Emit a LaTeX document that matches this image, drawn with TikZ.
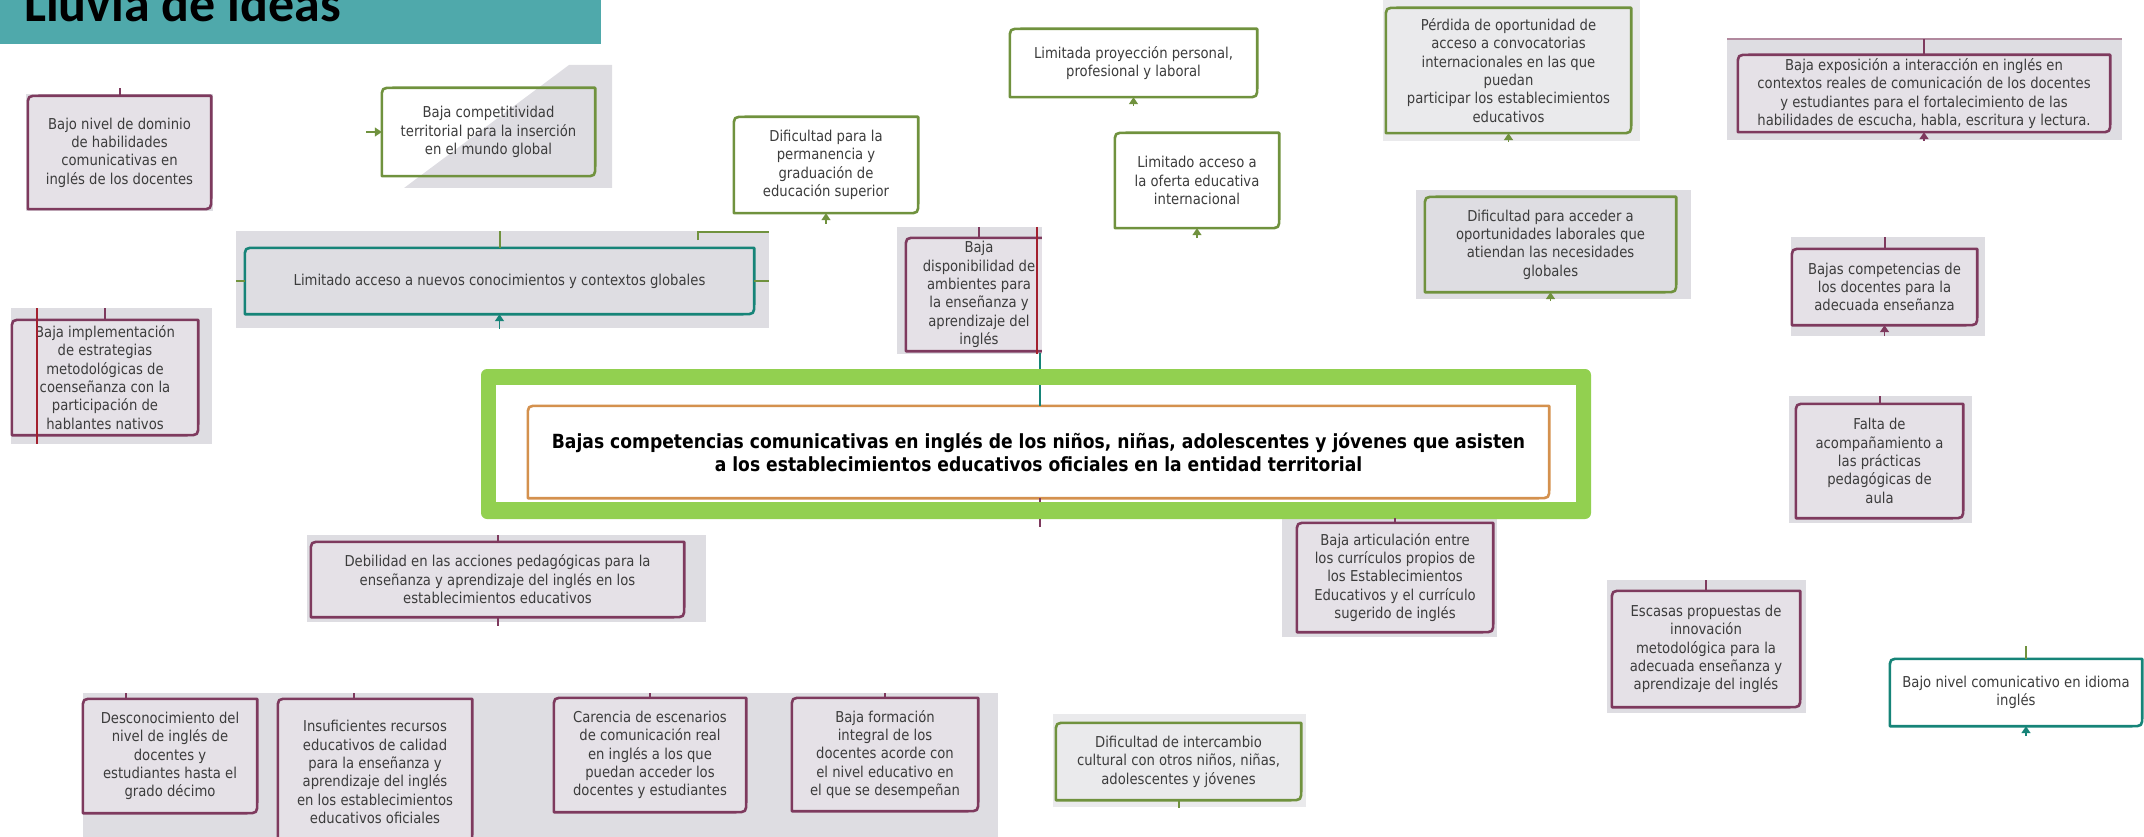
\documentclass[tikz,border=0pt]{standalone}
\usepackage{fontspec}
\setmainfont{DejaVu Sans}[FakeStretch=0.88]
\newfontfamily\titlefont{Carlito}
\usetikzlibrary{arrows.meta, calc}
\definecolor{titleteal}{HTML}{4FA9AB}
\definecolor{maroon}{HTML}{7E3A5E}
\definecolor{darkred}{HTML}{A3202E}
\definecolor{leaf}{HTML}{70923E}
\definecolor{sea}{HTML}{168478}
\definecolor{lime}{HTML}{92D050}
\definecolor{amber}{HTML}{D4914E}
\definecolor{patchgrey}{HTML}{DEDDE2}
\definecolor{lightgrey}{HTML}{EAEAEC}
\definecolor{pinkgrey}{HTML}{E5E1E7}
\definecolor{textgrey}{HTML}{3C3C3C}
\pgfdeclarelayer{patches}
\pgfdeclarelayer{frames}
\pgfsetlayers{patches,frames,main}
% box outline with rounded top-left and bottom-right corners
\newcommand{\ideaframe}[2]{%
  \begin{pgfonlayer}{frames}
    \filldraw[#2] ($(#1.north west)+(0pt,-11pt)$) .. controls (#1.north west) .. ($(#1.north west)+(11pt,0pt)$)
      -- (#1.north east) -- ($(#1.south east)+(0pt,11pt)$) .. controls (#1.south east) .. ($(#1.south east)+(-11pt,0pt)$)
      -- (#1.south west) -- cycle;
  \end{pgfonlayer}}

\begin{document}
\begin{tikzpicture}[x=1pt, y=-1pt,
    idea/.style={inner sep=0pt, align=center, text=textgrey,
      font=\fontsize{15}{18.4}\selectfont},
    frame/.style={line width=2.6pt, line join=round},
    maroonbox/.style={frame, draw=maroon, fill=pinkgrey},
    leafbox/.style={frame, draw=leaf, fill=white},
    seabox/.style={frame, draw=sea, fill=white},
    patch/.style={fill=patchgrey},
    stub/.style={line width=2pt},
    arr/.style={line width=1.5pt, -{Triangle[width=9pt,length=7pt]}}]
  \useasboundingbox (0,0) rectangle (2144,837);

  % title bar
  \fill[titleteal] (0,0) rectangle (601,44);
  \node[anchor=base west, inner sep=0pt, font=\titlefont\bfseries\fontsize{52}{52}\selectfont]
    (titulo) at (24,22) {Lluvia de ideas};

  % grey patches behind the pasted boxes, and the frame of the problem
  \begin{pgfonlayer}{patches}
    \fill[patch] (26,94) rectangle (213,211);
    \fill[patch] (569,65) -- (612,65) -- (612,188) -- (404,188) -- cycle;
    \fill[patch] (236,231) rectangle (769,328);
    \fill[patch] (11,308) rectangle (212,444);
    \fill[patch] (897,227) rectangle (1042,354);
    \fill[lightgrey] (1383,0) rectangle (1640,141);
    \fill[patch] (1727,38) rectangle (2122,140);
    \fill[patch] (1416,190) rectangle (1691,299);
    \fill[patch] (1791,237) rectangle (1985,336);
    \fill[patch] (1789,396) rectangle (1972,523);
    \fill[patch] (307,535) rectangle (706,622);
    \fill[patch] (1282,518) rectangle (1497,637);
    \fill[patch] (1607,580) rectangle (1806,713);
    \fill[patch] (83,693) rectangle (998,837);
    \fill[lightgrey] (1053,714) rectangle (1306,807);
    \fill[lime, rounded corners=6pt] (481,369) rectangle (1591,519);
    \fill[white] (496,385) rectangle (1576,502);
  \end{pgfonlayer}

  % upper left
  \node[idea, minimum width=183pt, minimum height=113pt] (dominio) at (119.5,152.5)
    {Bajo nivel de dominio\\de habilidades\\comunicativas en\\inglés de los docentes};
  \ideaframe{dominio}{maroonbox}
  \node[idea, minimum width=213pt, minimum height=88pt] (competitividad) at (488.5,132)
    {Baja competitividad\\territorial para la inserción\\en el mundo global};
  \ideaframe{competitividad}{leafbox, fill=none}
  \node[idea, minimum width=509pt, minimum height=66pt] (acceso) at (499.5,281)
    {Limitado acceso a nuevos conocimientos y contextos globales};
  \ideaframe{acceso}{seabox, fill=patchgrey}
  \node[idea, minimum width=186pt, minimum height=115pt] (implementacion) at (105,377.5)
    {Baja implementación\\de estrategias\\metodológicas de\\coenseñanza con la\\participación de\\hablantes nativos};
  \ideaframe{implementacion}{maroonbox}

  % upper middle
  \node[idea, minimum width=184pt, minimum height=96pt] (permanencia) at (826,165)
    {Dificultad para la\\permanencia y\\graduación de\\educación superior};
  \ideaframe{permanencia}{leafbox}
  \node[idea, minimum width=247pt, minimum height=68pt] (proyeccion) at (1133.5,63)
    {Limitada proyección personal,\\profesional y laboral};
  \ideaframe{proyeccion}{leafbox}
  \node[idea, minimum width=164pt, minimum height=95pt] (oferta) at (1197,180.5)
    {Limitado acceso a\\la oferta educativa\\internacional};
  \ideaframe{oferta}{leafbox}
  \node[idea, minimum width=146pt, minimum height=113pt] (ambientes) at (979,294.5)
    {Baja\\disponibilidad de\\ambientes para\\la enseñanza y\\aprendizaje del\\inglés};
  \ideaframe{ambientes}{maroonbox}

  % upper right
  \node[idea, minimum width=245pt, minimum height=125pt] (convocatorias) at (1508.5,70.5)
    {Pérdida de oportunidad de\\acceso a convocatorias\\internacionales en las que\\puedan\\participar los establecimientos\\educativos};
  \ideaframe{convocatorias}{leafbox, fill=lightgrey}
  \node[idea, minimum width=372pt, minimum height=77pt] (exposicion) at (1924,93.5)
    {Baja exposición a interacción en inglés en\\contextos reales de comunicación de los docentes\\y estudiantes para el fortalecimiento de las\\habilidades de escucha, habla, escritura y lectura.};
  \ideaframe{exposicion}{maroonbox}
  \node[idea, minimum width=251pt, minimum height=95pt] (laborales) at (1550.5,244.5)
    {Dificultad para acceder a\\oportunidades laborales que\\atiendan las necesidades\\globales};
  \ideaframe{laborales}{leafbox, fill=patchgrey}
  \node[idea, minimum width=185pt, minimum height=76pt] (docentes) at (1884.5,287)
    {Bajas competencias de\\los docentes para la\\adecuada enseñanza};
  \ideaframe{docentes}{maroonbox}
  \node[idea, minimum width=167pt, minimum height=114pt] (acompanamiento) at (1879.5,461)
    {Falta de\\acompañamiento a\\las prácticas\\pedagógicas de\\aula};
  \ideaframe{acompanamiento}{maroonbox}

  % central problem
  \node[idea, minimum width=1021pt, minimum height=92pt, text=black,
    font=\bfseries\fontsize{19.5}{23}\selectfont] (problema) at (1038.5,452)
    {Bajas competencias comunicativas en inglés de los niños, niñas, adolescentes y jóvenes que asisten\\a los establecimientos educativos oficiales en la entidad territorial};
  \ideaframe{problema}{frame, draw=amber, fill=white}
  \coordinate (problema-top) at (1040,385);
  \coordinate (problema-bot) at (1040,502);
  \draw[stub, sea] (1040,353) -- (1040,369);
  \draw[stub, sea] (problema-top |- problema.north) -- (problema-top);
  \draw[stub, maroon] (problema-bot |- problema.south) -- (problema-bot);
  \draw[stub, maroon] (1040,519) -- (1040,527);

  % lower part
  \node[idea, minimum width=373pt, minimum height=75pt] (debilidad) at (497.5,579.5)
    {Debilidad en las acciones pedagógicas para la\\enseñanza y aprendizaje del inglés en los\\establecimientos educativos};
  \ideaframe{debilidad}{maroonbox}
  \node[idea, minimum width=196pt, minimum height=109pt] (articulacion) at (1395,577.5)
    {Baja articulación entre\\los currículos propios de\\los Establecimientos\\Educativos y el currículo\\sugerido de inglés};
  \ideaframe{articulacion}{maroonbox}
  \node[idea, minimum width=188pt, minimum height=116pt] (innovacion) at (1706,649)
    {Escasas propuestas de\\innovación\\metodológica para la\\adecuada enseñanza y\\aprendizaje del inglés};
  \ideaframe{innovacion}{maroonbox}
  \node[idea, minimum width=174pt, minimum height=114pt] (desconocimiento) at (170,756)
    {Desconocimiento del\\nivel de inglés de\\docentes y\\estudiantes hasta el\\grado décimo};
  \ideaframe{desconocimiento}{maroonbox}
  \node[idea, minimum width=194pt, minimum height=146pt] (recursos) at (375,772)
    {Insuficientes recursos\\educativos de calidad\\para la enseñanza y\\aprendizaje del inglés\\en los establecimientos\\educativos oficiales};
  \ideaframe{recursos}{maroonbox}
  \node[idea, minimum width=192pt, minimum height=114pt] (escenarios) at (650,755)
    {Carencia de escenarios\\de comunicación real\\en inglés a los que\\puedan acceder los\\docentes y estudiantes};
  \ideaframe{escenarios}{maroonbox}
  \node[idea, minimum width=186pt, minimum height=113pt] (formacion) at (885,754.5)
    {Baja formación\\integral de los\\docentes acorde con\\el nivel educativo en\\el que se desempeñan};
  \ideaframe{formacion}{maroonbox}
  \node[idea, minimum width=245pt, minimum height=77pt] (intercambio) at (1178.5,761.5)
    {Dificultad de intercambio\\cultural con otros niños, niñas,\\adolescentes y jóvenes};
  \ideaframe{intercambio}{leafbox, fill=lightgrey}
  \node[idea, minimum width=252pt, minimum height=67pt] (comunicativo) at (2016,692.5)
    {Bajo nivel comunicativo en idioma\\inglés};
  \ideaframe{comunicativo}{seabox}

  % cut-off connectors and arrow heads
  \coordinate (dominio-up) at (119.5,88);
  \draw[stub, maroon] (dominio.north) -- (dominio-up);
  \coordinate (competitividad-in) at (366,132);
  \draw[arr, leaf] (competitividad-in) -- (competitividad.west);
  \coordinate (acceso-up) at (499.5,231);
  \coordinate (acceso-left) at (236,281);
  \coordinate (acceso-right) at (769,281);
  \coordinate (acceso-in) at (499.5,329);
  \draw[stub, leaf] (acceso.north) -- (acceso-up);
  \draw[stub, leaf] (acceso-left) -- (acceso.west);
  \draw[stub, leaf] (acceso.east) -- (acceso-right);
  \draw[arr, sea] (acceso-in) -- (acceso.south);
  \draw[stub, leaf] (698,240) -- (698,232) -- (769,232);
  \coordinate (implementacion-up) at (105,308);
  \draw[stub, maroon] (implementacion.north) -- (implementacion-up);
  \draw[line width=2.4pt, darkred] (37,308) -- (37,444);
  \coordinate (permanencia-in) at (826,224);
  \draw[arr, leaf] (permanencia-in) -- (permanencia.south);
  \coordinate (proyeccion-in) at (1133.5,106);
  \draw[arr, leaf] (proyeccion-in) -- (proyeccion.south);
  \coordinate (oferta-in) at (1197,238);
  \draw[arr, leaf] (oferta-in) -- (oferta.south);
  \coordinate (ambientes-up) at (979,227);
  \draw[stub, maroon] (ambientes.north) -- (ambientes-up);
  \fill[white] (1042,225) rectangle (1060,360);
  \draw[line width=2.4pt, darkred] (1037,227) -- (1037,354);
  \coordinate (convocatorias-in) at (1508.5,142);
  \draw[arr, leaf] (convocatorias-in) -- (convocatorias.south);
  \draw[stub, maroon!60] (1727,39) -- (2122,39);
  \coordinate (exposicion-up) at (1924,39);
  \coordinate (exposicion-in) at (1924,141);
  \draw[stub, maroon] (exposicion.north) -- (exposicion-up);
  \draw[arr, maroon] (exposicion-in) -- (exposicion.south);
  \coordinate (laborales-in) at (1550.5,301);
  \draw[arr, leaf] (laborales-in) -- (laborales.south);
  \coordinate (docentes-up) at (1884.5,237);
  \coordinate (docentes-in) at (1884.5,336);
  \draw[stub, maroon] (docentes.north) -- (docentes-up);
  \draw[arr, maroon] (docentes-in) -- (docentes.south);
  \coordinate (acompanamiento-up) at (1879.5,396);
  \draw[stub, maroon] (acompanamiento.north) -- (acompanamiento-up);
  \coordinate (debilidad-up) at (497.5,535);
  \coordinate (debilidad-down) at (497.5,626);
  \draw[stub, maroon] (debilidad.north) -- (debilidad-up);
  \draw[stub, maroon] (debilidad.south) -- (debilidad-down);
  \coordinate (articulacion-up) at (1395,518);
  \draw[stub, maroon] (articulacion.north) -- (articulacion-up);
  \coordinate (innovacion-up) at (1706,580);
  \draw[stub, maroon] (innovacion.north) -- (innovacion-up);
  \coordinate (desconocimiento-up) at (126,693);
  \draw[stub, maroon] (desconocimiento-up) -- (desconocimiento-up |- desconocimiento.north);
  \coordinate (recursos-up) at (354,693);
  \draw[stub, maroon] (recursos-up) -- (recursos-up |- recursos.north);
  \coordinate (escenarios-up) at (650,693);
  \draw[stub, maroon] (escenarios.north) -- (escenarios-up);
  \coordinate (formacion-up) at (885,693);
  \draw[stub, maroon] (formacion.north) -- (formacion-up);
  \coordinate (intercambio-down) at (1178.5,808);
  \draw[stub, leaf] (intercambio.south) -- (intercambio-down);
  \coordinate (comunicativo-up) at (2026,646);
  \coordinate (comunicativo-in) at (2026,736);
  \draw[stub, leaf] (comunicativo-up |- comunicativo.north) -- (comunicativo-up);
  \draw[arr, sea] (comunicativo-in) -- (comunicativo-in |- comunicativo.south);
\end{tikzpicture}
\end{document}
